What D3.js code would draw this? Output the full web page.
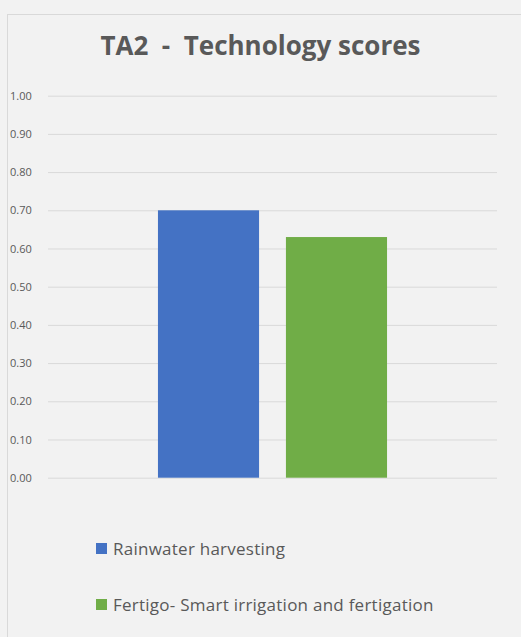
<!DOCTYPE html>
<html>
<head>
<meta charset="utf-8">
<script src="https://cdn.jsdelivr.net/npm/d3@7/dist/d3.min.js"></script>
<style>
  html, body { margin: 0; padding: 0; background: #f2f2f2; }
  svg { display: block; }
</style>
</head>
<body>
<svg id="chart" width="521" height="637"></svg>
<script>
// Chart data
const seriesNames = ["Rainwater harvesting", "Fertigo- Smart irrigation and fertigation"];
const seriesValues = [0.70, 0.63];
const seriesColors = ["#4472c4", "#70ad47"];
const yTicks = [0, 0.1, 0.2, 0.3, 0.4, 0.5, 0.6, 0.7, 0.8, 0.9, 1.0];
const titleText = "TA2  -  Technology scores";

const W = 521, H = 637;
const font = "'Open Sans', Lato, sans-serif";
const textColor = "#595959";

const svg = d3.select("#chart");

// Background and chart frame
svg.append("rect").attr("width", W).attr("height", H).attr("fill", "#f2f2f2");
svg.append("rect")
  .attr("x", 7.5).attr("y", 14.5)
  .attr("width", W).attr("height", H)
  .attr("fill", "#f2f2f2")
  .attr("stroke", "#d9d9d9").attr("stroke-width", 1);

// Title
svg.append("text")
  .attr("x", 260.5).attr("y", 55)
  .attr("text-anchor", "middle")
  .attr("font-family", font)
  .attr("font-weight", "bold")
  .attr("font-size", 26)
  .attr("fill", textColor)
  .attr("xml:space", "preserve")
  .style("white-space", "pre")
  .text(titleText);

// Plot area
const plot = { left: 48, right: 497, top: 95.7, bottom: 477.7 };

const y = d3.scaleLinear().domain([0, 1]).range([plot.bottom, plot.top]);

const x0 = d3.scaleBand().domain(["group"]).range([plot.left, plot.right]).paddingInner(0).paddingOuter(0.48);
const x1 = d3.scaleBand().domain(seriesNames).range([0, x0.bandwidth()]).paddingInner(0.21).paddingOuter(0);

// Gridlines
const yAxis = d3.axisLeft(y)
  .tickValues(yTicks)
  .tickSize(-(plot.right - plot.left))
  .tickFormat(d3.format(".2f"));

const gAxis = svg.append("g")
  .attr("transform", `translate(${plot.left},0)`)
  .call(yAxis);
gAxis.select(".domain").remove();
gAxis.selectAll(".tick line").attr("stroke", "#d9d9d9").attr("stroke-width", 1);
gAxis.selectAll(".tick text")
  .attr("x", -38)
  .attr("text-anchor", "start")
  .attr("font-family", font)
  .attr("font-size", 11)
  .attr("fill", textColor);

// Bars
svg.append("g")
  .selectAll("rect")
  .data(seriesNames.map((n, i) => ({ name: n, value: seriesValues[i], color: seriesColors[i] })))
  .join("rect")
  .attr("x", d => x0("group") + x1(d.name))
  .attr("width", x1.bandwidth())
  .attr("y", d => y(d.value))
  .attr("height", d => y(0) - y(d.value))
  .attr("fill", d => d.color);

// Legend
const legend = svg.append("g");
const legendRows = [549, 605];
seriesNames.forEach((n, i) => {
  const g = legend.append("g").attr("transform", `translate(96,${legendRows[i]})`);
  g.append("rect").attr("x", 0).attr("y", -6).attr("width", 11).attr("height", 11).attr("fill", seriesColors[i]);
  g.append("text")
    .attr("x", 17).attr("y", 6)
    .attr("font-family", font)
    .attr("font-size", 17)
    .attr("letter-spacing", 0.25)
    .attr("fill", textColor)
    .text(n);
});
</script>
</body>
</html>
